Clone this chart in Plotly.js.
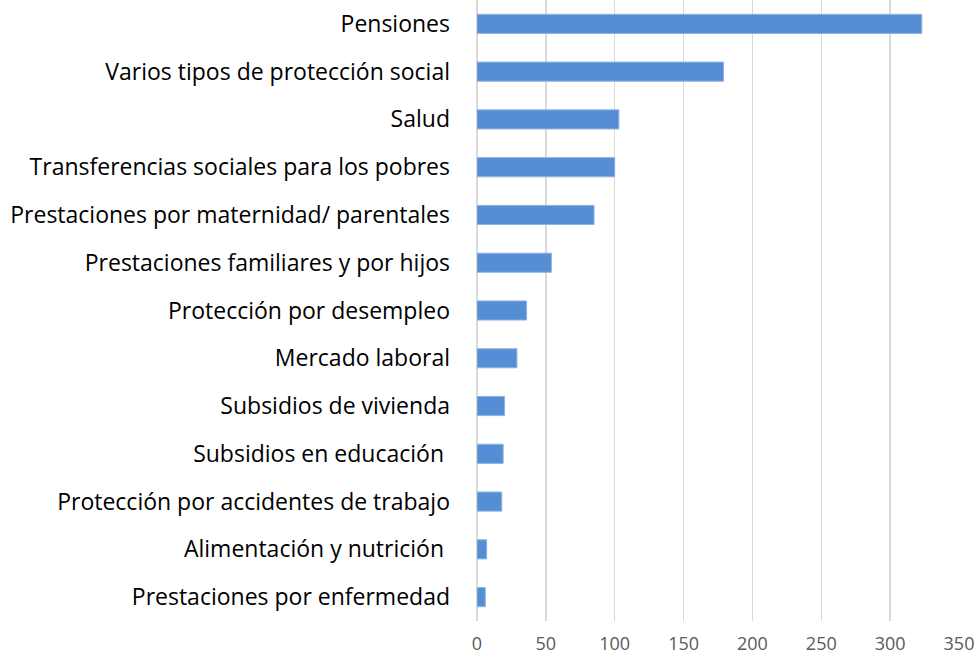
<!DOCTYPE html>
<html>
<head>
<meta charset="utf-8">
<script src="https://cdn.plot.ly/plotly-3.0.1.min.js"></script>
<style>html,body{margin:0;padding:0;background:#fff;}#chart{width:979px;height:658px;}</style>
</head>
<body>
<div id="chart"></div>
<script>
const categories = [
  "Pensiones",
  "Varios tipos de protección social",
  "Salud",
  "Transferencias sociales para los pobres",
  "Prestaciones por maternidad/ parentales",
  "Prestaciones familiares y por hijos",
  "Protección por desempleo",
  "Mercado laboral",
  "Subsidios de vivienda",
  "Subsidios en educación\u00a0",
  "Protección por accidentes de trabajo",
  "Alimentación y nutrición\u00a0",
  "Prestaciones por enfermedad"
];
const values = [323, 179, 103, 100, 85, 54, 36, 29, 20, 19, 18, 7, 6];
const xTicks = [0, 50, 100, 150, 200, 250, 300, 350];

const trace = {
  type: "bar",
  orientation: "h",
  y: categories,
  x: values,
  marker: {color: "#558ED5", line: {color: "#8DB3E2", width: 1}},
  hoverinfo: "x+y"
};

const layout = {
  width: 979, height: 658,
  margin: {l: 477, r: 20, t: 0, b: 37},
  paper_bgcolor: "#ffffff", plot_bgcolor: "#ffffff",
  font: {family: "Open Sans, Liberation Sans, sans-serif"},
  showlegend: false,
  bargap: 0.6,
  xaxis: {
    range: [0, 350],
    tickvals: xTicks,
    ticktext: xTicks.map(String),
    showgrid: true, gridcolor: "#D9D9D9", gridwidth: 1.5,
    zeroline: true, zerolinecolor: "#D9D9D9", zerolinewidth: 1.5,
    showline: false,
    tickfont: {size: 18, color: "#595959", family: "Open Sans, sans-serif"},
    ticks: "outside", ticklen: 6, tickcolor: "rgba(0,0,0,0)",
    fixedrange: true
  },
  yaxis: {
    autorange: "reversed",
    type: "category",
    showgrid: false, zeroline: false, showline: false,
    ticks: "",
    ticklabelstandoff: 26,
    tickfont: {size: 23, color: "#000000", family: "Open Sans, sans-serif"},
    fixedrange: true
  }
};

Plotly.newPlot("chart", [trace], layout, {displayModeBar: false, staticPlot: true});
</script>
</body>
</html>
